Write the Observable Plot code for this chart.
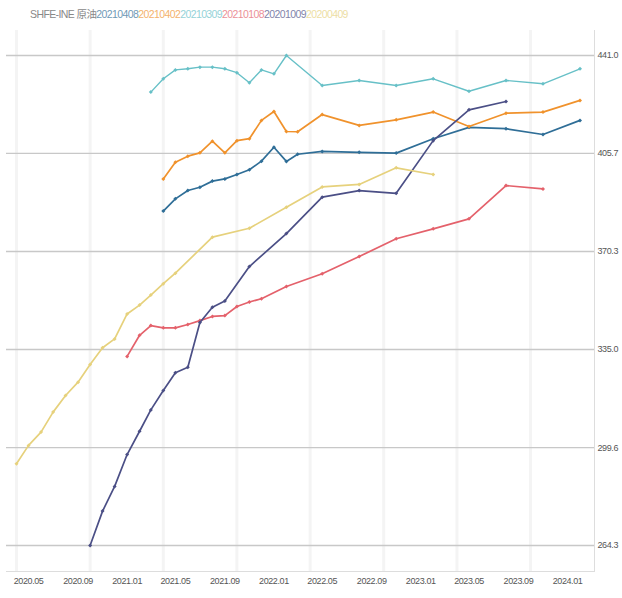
<!DOCTYPE html>
<html>
<head>
<meta charset="utf-8">
<script src="https://cdn.jsdelivr.net/npm/d3@7"></script>
<script src="https://cdn.jsdelivr.net/npm/@observablehq/plot@0.6"></script>
<style>
  html, body { margin: 0; padding: 0; background: #fff; }
  #legend { height: 25px; box-sizing: border-box; padding: 8px 0 0 30px; font-family: "Liberation Sans", "Noto Sans CJK SC", sans-serif; font-size: 10.5px; letter-spacing: -0.6px; line-height: 12px; color: #888; white-space: nowrap; }
</style>
</head>
<body>
<div id="legend"></div>
<div id="chart"></div>
<script>
// ---- series names & colours
const legendPrefix = "SHFE-INE 原油";
const seriesNames = ["20210408", "20210402", "20210309", "20210108", "20201009", "20200409"];
const seriesColors = ["#2f6e97", "#f0922c", "#67c0c7", "#e4616b", "#4b4f86", "#e6d17c"];

// ---- dates (year-month) per series
const quarterly = ["2022-05", "2022-08", "2022-11", "2023-02", "2023-05", "2023-08", "2023-11", "2024-02"];
const monthsBlue   = ["2021-04","2021-05","2021-06","2021-07","2021-08","2021-09","2021-10","2021-11","2021-12","2022-01","2022-02","2022-03", ...quarterly];
const monthsOrange = monthsBlue;
const monthsTeal   = ["2021-03","2021-04","2021-05","2021-06","2021-07","2021-08","2021-09","2021-10","2021-11","2021-12","2022-01","2022-02", ...quarterly];
const monthsRed    = ["2021-01","2021-02","2021-03","2021-04","2021-05","2021-06","2021-07","2021-08","2021-09","2021-10","2021-11","2021-12","2022-02", "2022-05","2022-08","2022-11","2023-02","2023-05","2023-08","2023-11"];
const monthsNavy   = ["2020-10","2020-11","2020-12","2021-01","2021-02","2021-03","2021-04","2021-05","2021-06","2021-07","2021-08","2021-09","2021-11","2022-02", "2022-05","2022-08","2022-11","2023-02","2023-05","2023-08"];
const monthsYellow = ["2020-04","2020-05","2020-06","2020-07","2020-08","2020-09","2020-10","2020-11","2020-12","2021-01","2021-02","2021-03","2021-04","2021-05","2021-08","2021-11","2022-02","2022-05","2022-08","2022-11","2023-02"];

// ---- values per series
const valuesBlue   = [384.9,389.3,392.3,393.5,395.7,396.5,398.1,399.8,402.9,407.9,402.8,405.4, 406.4,406.1,405.8,411.0,415.1,414.6,412.5,417.6];
const valuesOrange = [396.5,402.5,404.7,405.9,410.1,405.9,410.3,411.0,417.6,420.8,413.6,413.5, 419.7,415.8,417.8,420.6,415.4,420.2,420.6,424.8];
const valuesTeal   = [427.8,432.6,435.8,436.2,436.8,436.8,436.2,434.8,431.2,435.8,434.4,441.0, 430.2,432.0,430.2,432.6,428.1,432.0,430.8,436.2];
const valuesRed    = [332.5,340.1,343.6,342.8,342.8,344.0,345.4,346.9,347.2,350.5,352.1,353.3, 357.7, 362.3,368.5,374.9,378.5,382.1,394.1,392.9];
const valuesNavy   = [264.3,276.7,285.6,297.1,305.5,313.2,320.2,326.6,328.6,344.7,350.2,352.5, 364.9,376.8, 389.9,392.3,391.3,410.3,421.4,424.4];
const valuesYellow = [293.8,300.4,305.2,312.4,318.4,323.2,329.6,335.6,338.8,347.8,351.0,354.6,358.7,362.5, 375.5,378.7,386.3,393.6,394.5,400.5,398.1];

// ---- ticks
const xTickLabels = ["2020.05","2020.09","2021.01","2021.05","2021.09","2022.01","2022.05","2022.09","2023.01","2023.05","2023.09","2024.01"];
const yTicks = [264.3, 299.6, 335.0, 370.3, 405.7, 441.0];
const xGridMonths = ["2020-04","2020-10","2021-04","2021-10","2022-04","2022-10","2023-04","2023-10"];

// ---- build table
const parseYM = d3.utcParse("%Y-%m");
const parseDot = d3.utcParse("%Y.%m");
const monthsList = [monthsBlue, monthsOrange, monthsTeal, monthsRed, monthsNavy, monthsYellow];
const valuesList = [valuesBlue, valuesOrange, valuesTeal, valuesRed, valuesNavy, valuesYellow];
const rows = [];
seriesNames.forEach((name, i) => {
  monthsList[i].forEach((m, j) => rows.push({series: name, date: parseYM(m), value: valuesList[i][j]}));
});

// ---- legend
const legend = document.getElementById("legend");
const pre = document.createElement("span");
pre.textContent = legendPrefix;
legend.appendChild(pre);
seriesNames.forEach((n, i) => {
  const s = document.createElement("span");
  s.textContent = n;
  s.style.color = seriesColors[i];
  s.style.opacity = 0.7;
  legend.appendChild(s);
});

const font = '"Liberation Sans", sans-serif';
const seriesMarks = [];
seriesNames.forEach((name, i) => {
  const data = rows.filter(r => r.series === name);
  seriesMarks.push(Plot.line(data, {x: "date", y: "value", stroke: seriesColors[i], strokeWidth: name === "20210309" ? 1.4 : 1.7}));
  seriesMarks.push(Plot.dot(data, {x: "date", y: "value", fill: seriesColors[i], r: 1.8, symbol: "diamond2"}));
});

const chart = Plot.plot({
  width: 622,
  height: 573,
  marginLeft: 6,
  marginRight: 28,
  marginTop: 5,
  marginBottom: 27,
  style: {fontFamily: font, fontSize: "9px", letterSpacing: "-0.4px", background: "#fff", color: "#555"},
  x: {type: "utc", domain: [parseYM("2020-04"), parseYM("2024-02")], range: [16, 579.5]},
  y: {domain: [264.3, 441.0], range: [520, 30]},
  marks: [
    Plot.ruleX(xGridMonths.map(parseYM), {stroke: "#f4f4f4", strokeWidth: 3}),
    Plot.gridY(yTicks, {stroke: "#c8c8c8", strokeOpacity: 1, strokeWidth: 1.4}),
    Plot.frame({anchor: "bottom", stroke: "#dddddd"}),
    Plot.frame({anchor: "right", stroke: "#dddddd"}),
    Plot.axisY(yTicks, {anchor: "right", tickSize: 0, tickPadding: 3, tickFormat: d => d.toFixed(1), label: null, fill: "#555"}),
    Plot.axisX(xTickLabels.map(parseDot), {anchor: "bottom", tickSize: 0, tickPadding: 6, tickFormat: d3.utcFormat("%Y.%m"), label: null, fill: "#555"}),
    ...seriesMarks
  ]
});
document.getElementById("chart").appendChild(chart);
</script>
</body>
</html>
